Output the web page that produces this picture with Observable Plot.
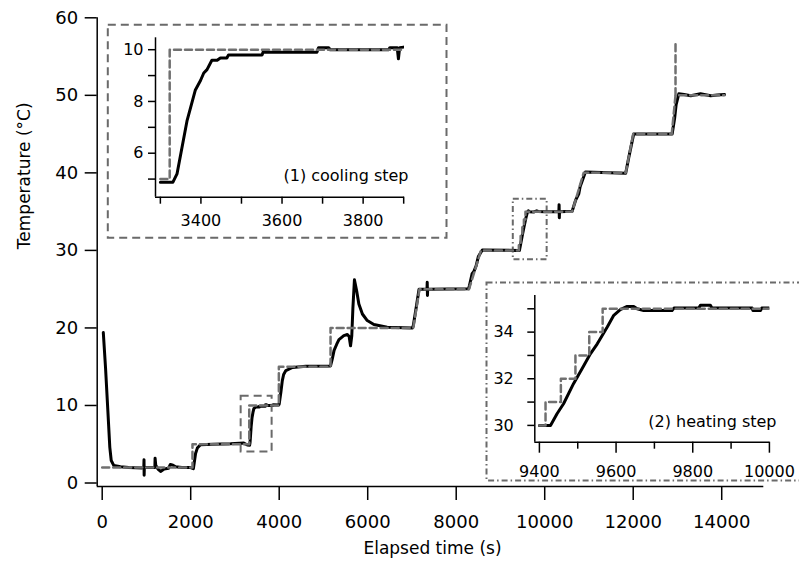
<!DOCTYPE html>
<html>
<head>
<meta charset="utf-8">
<script src="https://cdn.jsdelivr.net/npm/d3@7"></script>
<script src="https://cdn.jsdelivr.net/npm/@observablehq/plot@0.6"></script>
<style>
  body { margin: 0; background: #fff; }
  #chart { position: relative; width: 799px; height: 561px; overflow: hidden; font-family: "DejaVu Sans", sans-serif; }
  #chart svg { position: absolute; }
</style>
</head>
<body>
<div id="chart"></div>
<script>
// ---------- main chart data ----------
const setTime = [0, 2040, 2040, 3323, 3323, 3992, 3992, 5160, 5160, 7030, 7170, 8290, 8560, 9416, 9416, 9456, 9456, 9494, 9494, 9530, 9530, 9565, 9565, 10620, 10880, 11830, 12000, 12870, 12956, 14063];
const setTemp = [2, 2, 5, 5, 10, 10, 15, 15, 20, 20, 25, 25, 30, 30, 31, 31, 32, 32, 33, 33, 34, 34, 35, 35, 40, 40, 45, 45, 50, 50];
// brief setpoint overshoot at the last step
const spikeTime = [12956, 12956];
const spikeTemp = [50, 57];

const measTime = [25, 75, 127, 172, 204, 263, 414, 600, 900, 940, 945, 948, 952, 1190, 1195, 1210, 1260, 1320, 1400, 1500, 1540, 1600, 1660, 1800, 2000, 2060,
  2080, 2110, 2150, 2220, 2500, 2900, 3200, 3280, 3331, 3341, 3366, 3386, 3407, 3427, 3468, 3551, 3553, 3686, 3690, 3715, 3719, 3863, 3866, 3990,
  4000, 4040, 4070, 4100, 4150, 4300, 4600, 5160,
  5200, 5240, 5300, 5350, 5460, 5540, 5580, 5612, 5640, 5665, 5700, 5750, 5800, 5880, 5990, 6140, 6440, 7010,
  7030, 7100, 7160, 7340, 7345, 7350, 7355, 8280,
  8300, 8360, 8400, 8450, 8500, 8590, 9400, 9429, 9446, 9489, 9533, 9577, 9611, 9629, 9655, 9750, 9820, 9850, 10000,
  10320, 10325, 10330, 10335, 10620, 10700, 10770, 10800, 10920, 11830, 11900, 12010, 12880,
  12935, 12970, 13030, 13150, 13300, 13520, 13750, 13900, 14063];
const measTemp = [19.4, 14.9, 9.4, 4.6, 2.9, 2.25, 2.1, 2.0, 1.95, 2.0, 3.0, 1.0, 2.0, 2.0, 3.2, 2.3, 1.8, 1.5, 1.8, 1.9, 2.4, 2.3, 2.1, 2.0, 2.0, 1.85,
  2.6, 3.8, 4.5, 4.95, 5.0, 5.05, 5.15, 4.9, 4.88, 5.2, 7.27, 8.43, 9.1, 9.59, 9.8, 9.8, 9.9, 9.9, 10.08, 10.08, 10.0, 10.0, 10.08, 10.05,
  10.2, 11.8, 13.2, 14.0, 14.5, 14.9, 15.05, 15.1,
  16.0, 17.1, 17.9, 18.5, 19.0, 19.15, 18.9, 17.7, 19.0, 22.5, 26.2, 24.8, 23.1, 21.8, 20.95, 20.45, 20.1, 20.0,
  20.3, 22.8, 25.0, 25.0, 25.9, 24.2, 25.0, 25.05,
  25.5, 27.0, 27.3, 28.0, 29.2, 30.05, 30.0, 30.0, 30.5, 31.79, 33.07, 34.22, 34.96, 35.1, 35.0, 34.95, 35.1, 35.03, 35.0,
  35.0, 35.9, 34.2, 35.0, 35.05, 36.5, 37.3, 38.2, 40.1, 39.95, 42.0, 45.0, 45.0,
  47.0, 48.8, 50.2, 50.1, 49.95, 50.2, 49.95, 50.05, 50.1];

const mainXDomain = [-113, 14951];
const mainYDomain = [-0.45, 60];
const mainXTicks = [0, 2000, 4000, 6000, 8000, 10000, 12000, 14000];
const mainYTicks = [0, 10, 20, 30, 40, 50, 60];

// zoomed regions marked on the main chart
const boxX1 = [3140, 9290];
const boxX2 = [3840, 10055];
const boxY1 = [4.0, 28.8];
const boxY2 = [11.2, 36.6];

// ---------- inset 1: cooling step ----------
const in1MeasTime = [3300, 3331, 3341, 3366, 3386, 3399, 3407, 3415, 3427, 3440, 3448, 3464, 3468, 3551, 3553, 3686, 3690, 3715, 3719, 3863, 3866, 3884, 3887, 3890, 3900];
const in1MeasTemp = [4.88, 4.88, 5.2, 7.27, 8.43, 8.81, 9.1, 9.23, 9.59, 9.59, 9.68, 9.68, 9.8, 9.8, 9.9, 9.9, 10.08, 10.08, 10.0, 10.0, 10.08, 10.08, 9.65, 10.08, 10.1];
const in1SetTime = [3300, 3323, 3323, 3900];
const in1SetTemp = [5, 5, 10, 10];
const in1XDomain = [3288, 3902];
const in1YDomain = [4.30, 10.46];
const in1XTicks = [3300, 3400, 3500, 3600, 3700, 3800, 3900];
const in1XLabels = [3400, 3600, 3800];
const in1YTicks = [5, 6, 7, 8, 9, 10];
const in1YLabels = [6, 8, 10];

// ---------- inset 2: heating step ----------
const in2MeasTime = [9400, 9429, 9446, 9463, 9489, 9516, 9533, 9551, 9577, 9594, 9611, 9629, 9646, 9655, 9672, 9746, 9751, 9816, 9820, 9846, 9850, 9955, 9957, 9977, 9980, 10000];
const in2MeasTemp = [30, 30, 30.5, 30.93, 31.79, 32.57, 33.07, 33.5, 34.22, 34.72, 34.96, 35.1, 35.1, 35.0, 34.93, 34.93, 35.03, 35.03, 35.15, 35.15, 35.03, 35.03, 34.93, 34.93, 35.03, 35.03];
const in2SetTime = [9400, 9416, 9456, 9494, 9530, 9565, 10000];
const in2SetTemp = [30, 31, 32, 33, 34, 35, 35];
const in2XDomain = [9388, 10001];
const in2YDomain = [29.28, 35.57];
const in2XMajor = [9400, 9600, 9800, 10000];
const in2XMinor = [9500, 9700, 9900];
const in2YTicks = [30, 31, 32, 33, 34, 35];
const in2YLabels = [30, 32, 34];

// ---------- tables ----------
const zip = (xs, ys) => xs.map((t, i) => ({t, v: ys[i]}));
const setpoint = zip(setTime, setTemp);
const spike = zip(spikeTime, spikeTemp);
const measured = zip(measTime, measTemp);
const boxes = boxX1.map((x1, i) => ({x1, x2: boxX2[i], y1: boxY1[i], y2: boxY2[i]}));
const in1Meas = zip(in1MeasTime, in1MeasTemp);
const in1Set = zip(in1SetTime, in1SetTemp);
const in2Meas = zip(in2MeasTime, in2MeasTemp);
const in2Set = zip(in2SetTime, in2SetTemp);

const GRAY = "#707070";
const BOXGRAY = "#6a6a6a";
const DASH = "7,4";
const BOXDASH = "8,5";
const DASHDOT = "6,3,1.5,3";
const fmt = (d) => `${d}`;

const main = Plot.plot({
  width: 799, height: 561,
  marginLeft: 96.7, marginRight: 35.7, marginTop: 17.3, marginBottom: 75,
  x: {domain: mainXDomain},
  y: {domain: mainYDomain},
  style: {fontFamily: "DejaVu Sans", fontSize: "18px", color: "black", background: "white"},
  marks: [
    Plot.axisX({ticks: mainXTicks, tickFormat: fmt, tickSize: 14, tickPadding: 15, strokeWidth: 1.5, fontSize: 18, label: null}),
    Plot.axisY({ticks: mainYTicks, tickFormat: fmt, tickSize: 12, tickPadding: 7, strokeWidth: 1.5, fontSize: 18, label: null}),
    Plot.ruleX([mainXDomain[0]], {strokeWidth: 1.5}),
    Plot.ruleY([mainYDomain[0]], {strokeWidth: 1.5}),
    Plot.rect(boxes.slice(0, 1), {x1: "x1", x2: "x2", y1: "y1", y2: "y2", fill: "none", stroke: BOXGRAY, strokeWidth: 2, strokeDasharray: BOXDASH}),
    Plot.rect(boxes.slice(1, 2), {x1: "x1", x2: "x2", y1: "y1", y2: "y2", fill: "none", stroke: BOXGRAY, strokeWidth: 2, strokeDasharray: DASHDOT}),
    Plot.line(measured, {x: "t", y: "v", stroke: "black", strokeWidth: 3, strokeLinejoin: "round"}),
    Plot.line(setpoint, {x: "t", y: "v", stroke: GRAY, strokeWidth: 2.5, strokeDasharray: DASH}),
    Plot.line(spike, {x: "t", y: "v", stroke: GRAY, strokeWidth: 2.5, strokeDasharray: DASH}),
    Plot.text(["Elapsed time (s)"], {frameAnchor: "bottom", dx: 2, dy: 62, fontSize: 17, lineAnchor: "middle"}),
    Plot.text(["Temperature (°C)"], {frameAnchor: "left", dx: -73, dy: -3, rotate: -90, fontSize: 17, lineAnchor: "middle"})
  ]
});

const inset1 = Plot.plot({
  width: 344, height: 218,
  marginLeft: 50, marginTop: 15.3, marginRight: 45, marginBottom: 43.3,
  x: {domain: in1XDomain},
  y: {domain: in1YDomain},
  style: {fontFamily: "DejaVu Sans", fontSize: "16px", color: "black", background: "transparent"},
  marks: [
    Plot.frame({fill: "white", stroke: BOXGRAY, strokeWidth: 2, strokeDasharray: BOXDASH, insetLeft: -47.7, insetTop: -13, insetRight: -42, insetBottom: -40.6}),
    Plot.axisX({ticks: in1XTicks, tickFormat: (d) => in1XLabels.includes(d) ? `${d}` : "", tickSize: 7, tickPadding: 10, strokeWidth: 1.5, fontSize: 16, label: null}),
    Plot.axisY({ticks: in1YTicks, tickFormat: (d) => in1YLabels.includes(d) ? `${d}` : "", tickSize: 7, tickPadding: 5, strokeWidth: 1.5, fontSize: 16, label: null}),
    Plot.ruleX([in1XDomain[0]], {strokeWidth: 1.5}),
    Plot.ruleY([in1YDomain[0]], {strokeWidth: 1.5}),
    Plot.line(in1Meas, {x: "t", y: "v", stroke: "black", strokeWidth: 3, clip: true}),
    Plot.line(in1Set, {x: "t", y: "v", stroke: GRAY, strokeWidth: 2.5, strokeDasharray: DASH, clip: true}),
    Plot.text(["(1) cooling step"], {frameAnchor: "bottom-right", dx: 4, dy: -16.7, lineAnchor: "bottom", textAnchor: "end", fontSize: 16})
  ]
});

const inset2 = Plot.plot({
  width: 315, height: 202,
  marginLeft: 50.3, marginTop: 15, marginRight: 29.7, marginBottom: 40.3,
  x: {domain: in2XDomain},
  y: {domain: in2YDomain},
  style: {fontFamily: "DejaVu Sans", fontSize: "16px", color: "black", background: "transparent"},
  marks: [
    Plot.frame({fill: "white", stroke: BOXGRAY, strokeWidth: 2, strokeDasharray: DASHDOT, insetLeft: -48.3, insetTop: -13, insetRight: -40, insetBottom: -38.3}),
    Plot.axisX({ticks: in2XMinor, tickFormat: () => "", tickSize: 7, strokeWidth: 1.5, label: null}),
    Plot.axisX({ticks: in2XMajor, tickFormat: fmt, tickSize: 11, tickPadding: 12, strokeWidth: 1.5, fontSize: 16, label: null}),
    Plot.axisY({ticks: in2YTicks, tickFormat: (d) => in2YLabels.includes(d) ? `${d}` : "", tickSize: 7, tickPadding: 14, strokeWidth: 1.5, fontSize: 16, label: null}),
    Plot.ruleX([in2XDomain[0]], {strokeWidth: 1.5}),
    Plot.ruleY([in2YDomain[0]], {strokeWidth: 1.5}),
    Plot.line(in2Meas, {x: "t", y: "v", stroke: "black", strokeWidth: 3, clip: true}),
    Plot.line(in2Set, {x: "t", y: "v", curve: "step-after", stroke: GRAY, strokeWidth: 2.5, strokeDasharray: DASH, clip: true}),
    Plot.text(["(2) heating step"], {frameAnchor: "bottom-right", dx: 6.7, dy: -15, lineAnchor: "bottom", textAnchor: "end", fontSize: 16})
  ]
});

const chart = document.getElementById("chart");
main.style.left = "0px"; main.style.top = "0px";
inset1.style.left = "105px"; inset1.style.top = "22px";
inset2.style.left = "484px"; inset2.style.top = "280px";
chart.appendChild(main);
chart.appendChild(inset1);
chart.appendChild(inset2);
</script>
</body>
</html>
